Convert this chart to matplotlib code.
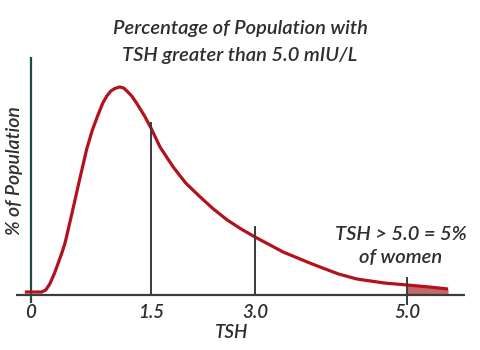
import numpy as np
import matplotlib
matplotlib.use("Agg")
import matplotlib.pyplot as plt

# curve (TSH value, relative % of population)
tsh = [-0.07, 0.14, 0.19, 0.24, 0.30, 0.39, 0.43, 0.52, 0.61, 0.70, 0.77,
       0.84, 0.90, 0.95, 1.00, 1.05, 1.11, 1.16, 1.20, 1.26, 1.32, 1.42,
       1.50, 1.63, 1.82, 2.00, 2.21, 2.40, 2.60, 2.80, 3.00, 3.37, 3.72,
       3.89, 4.10, 4.34, 4.70, 5.00, 5.30, 5.54]
pop = [0.3, 0.3, 0.5, 1.1, 2.2, 4.2, 5.2, 8.3, 11.5, 14.6, 16.5,
       18.0, 19.2, 19.9, 20.4, 20.65, 20.8, 20.7, 20.4, 19.9, 19.2, 17.9,
       16.7, 14.8, 12.8, 11.2, 9.8, 8.6, 7.5, 6.6, 5.8, 4.3, 3.2,
       2.7, 2.1, 1.6, 1.2, 1.0, 0.8, 0.6]

cut_vals = [1.5, 3.0, 5.0]
cut_tops = [17.2, 6.8, 1.7]
cut_bottoms = [0.0, 0.0, -1.0]

tick_vals = [0, 1.5, 3.0, 5.0]
tick_labels = ["0", "1.5", "3.0", "5.0"]

title = "Percentage of Population with\nTSH greater than 5.0 mIU/L"
note = "TSH > 5.0 = 5%\nof women"

# the illustration's x axis is not evenly spaced: piecewise linear scale
knot_val = [-1.0, 0.0, 1.5, 3.0, 5.0, 7.0]
knot_px = [-50.2, 30.5, 151.0, 255.0, 407.0, 559.0]


def fwd(v):
    return np.interp(v, knot_val, knot_px)


def inv(p):
    return np.interp(p, knot_px, knot_val)


TEXT = "#2e2e2e"
FONT = "Lato"
W = "semibold"

fig = plt.figure(figsize=(4.8, 3.5), dpi=100)
ax = fig.add_axes([16 / 480, 45 / 350, 449 / 480, 248 / 350])
ax.set_xscale("function", functions=(fwd, inv))
ax.set_xlim(inv(16), inv(465))
ax.set_ylim(-1.0, 23.8)
ax.axis("off")

# axes drawn by hand, they stick out past each other
ax.plot([inv(16), inv(465)], [0, 0], color="#3c3c3c", lw=1.6,
        solid_capstyle="butt", zorder=2)
ax.plot([0, 0], [-0.8, 23.8], color="#1d4a47", lw=1.6,
        solid_capstyle="butt", zorder=2)

x = np.array(tsh)
y = np.array(pop)
ax.fill_between(x, 0, y, where=x >= 5.0, color="#c06a6a", lw=0, zorder=1)
ax.plot(x, y, color="#b3111c", lw=2.3, solid_capstyle="butt",
        solid_joinstyle="round", zorder=3)

for v, top, bot in zip(cut_vals, cut_tops, cut_bottoms):
    ax.plot([v, v], [bot, top], color="#3a3a3a", lw=1.4, zorder=4)

for v, lab in zip(tick_vals, tick_labels):
    ax.text(v, -1.7, lab, ha="center", va="center", fontsize=13.5,
            style="italic", weight=W, color=TEXT, family=FONT)

ax.text(2.67, -3.8, "TSH", ha="center", va="center", fontsize=13.5,
        style="italic", weight=W, color=TEXT, family=FONT)

fig.text(15 / 480, 1 - 171 / 350, "% of Population", rotation=90,
         ha="center", va="center", fontsize=14, style="italic", weight=W,
         color=TEXT, family=FONT)

fig.text(240 / 480, 1 - 42 / 350, title, ha="center", va="center",
         fontsize=14.5, style="italic", weight=W, color=TEXT, family=FONT,
         linespacing=1.7)

fig.text(401 / 480, 1 - 246 / 350, note, ha="center", va="center",
         fontsize=14.5, style="italic", weight=W, color=TEXT, family=FONT,
         linespacing=1.4)

fig.savefig("out.png", dpi=100, facecolor="white")
